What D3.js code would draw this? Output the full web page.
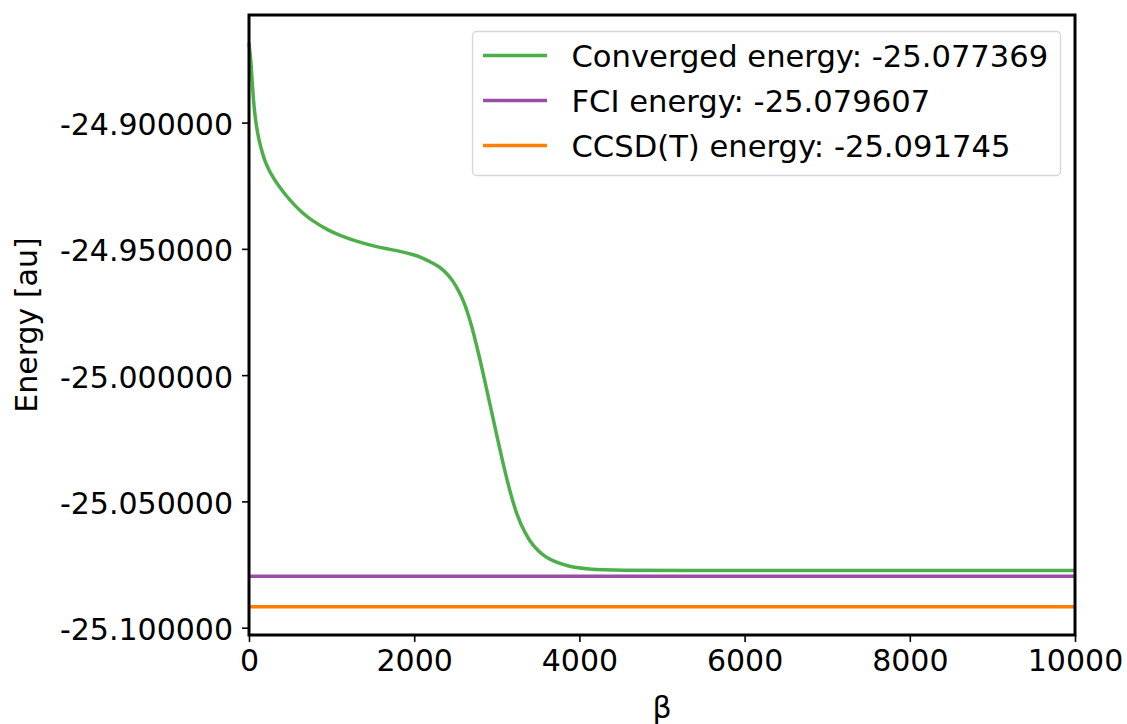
<!DOCTYPE html>
<html>
<head>
<meta charset="utf-8">
<script src="https://cdn.jsdelivr.net/npm/d3@7"></script>
<style>
  html, body { margin: 0; padding: 0; background: #ffffff; }
  svg { display: block; font-family: "DejaVu Sans", sans-serif; }
</style>
</head>
<body>
<svg id="chart" width="1127" height="724"></svg>
<script>
// Imaginary-time propagation: energy as a function of beta
const betaValues = [0, 24, 36, 51, 68, 88, 112, 142, 181, 234, 291, 355, 450, 557, 654, 759, 960, 1102, 1300, 1505, 1650, 1828, 2000, 2110, 2200, 2312, 2397, 2473, 2536, 2594, 2645, 2696, 2748, 2797, 2857, 2918, 2999, 3079, 3160, 3241, 3341, 3442, 3559, 3684, 3862, 4088, 4492, 5218, 6500, 8000, 10000];
const energyValues = [-24.86856, -24.87569, -24.88283, -24.88997, -24.89592, -24.90107, -24.90543, -24.90979, -24.91416, -24.91852, -24.92169, -24.92486, -24.92902, -24.93291, -24.93596, -24.93874, -24.94270, -24.94469, -24.94707, -24.94885, -24.94984, -24.95095, -24.95234, -24.95373, -24.95519, -24.95718, -24.95980, -24.96290, -24.96650, -24.97040, -24.97502, -24.98057, -24.98731, -24.99385, -25.00258, -25.01170, -25.02379, -25.03549, -25.04619, -25.05531, -25.06265, -25.06780, -25.07137, -25.07375, -25.07573, -25.07684, -25.07728, -25.07740, -25.07738, -25.07737, -25.077369];

const referenceNames = ["FCI", "CCSD(T)"];
const referenceEnergies = [-25.079607, -25.091745];
const convergedEnergy = -25.077369;

const seriesLabels = ["Converged energy: -25.077369", "FCI energy: -25.079607", "CCSD(T) energy: -25.091745"];
const seriesColors = ["#4daf4a", "#984ea3", "#ff7f00"];

const xTicks = [0, 2000, 4000, 6000, 8000, 10000];
const yTicks = [-24.90, -24.95, -25.00, -25.05, -25.10];

const margin = { left: 249, right: 1127 - 1075, top: 15, bottom: 724 - 635 };
const width = 1127, height = 724;
const fontSize = 30;
const legendFontSize = 30.6;

const svg = d3.select("#chart");

// y range with a 5% pad around all plotted values
const allY = energyValues.concat(referenceEnergies);
const yMin = d3.min(allY), yMax = d3.max(allY);
const pad = 0.05 * (yMax - yMin);

const x = d3.scaleLinear().domain([0, 10000]).range([margin.left, width - margin.right]);
const y = d3.scaleLinear().domain([yMin - pad, yMax + pad]).range([height - margin.bottom, margin.top]);

// plain hyphen-minus for negative tick labels
const fmtY = v => d3.format(".6f")(v).replace("\u2212", "-");

const plot = svg.append("g");

// Reference energies as horizontal lines
referenceEnergies.forEach((e, i) => {
  plot.append("line")
    .attr("x1", x(0)).attr("x2", x(10000))
    .attr("y1", y(e)).attr("y2", y(e))
    .attr("stroke", seriesColors[i + 1])
    .attr("stroke-width", 3.5);
});

// Energy curve
const pts = betaValues.map((b, i) => [b, energyValues[i]]);
const line = d3.line().x(d => x(d[0])).y(d => y(d[1])).curve(d3.curveBasis);
plot.append("path")
  .datum(pts)
  .attr("d", line)
  .attr("fill", "none")
  .attr("stroke", seriesColors[0])
  .attr("stroke-width", 3.5)
  .attr("stroke-linejoin", "round");

// Axes
const xAxis = d3.axisBottom(x).tickValues(xTicks).tickFormat(d3.format("d")).tickSize(7).tickPadding(6);
const yAxis = d3.axisLeft(y).tickValues(yTicks).tickFormat(fmtY).tickSize(7).tickPadding(9);

const gx = svg.append("g").attr("transform", `translate(0,${height - margin.bottom})`).call(xAxis);
const gy = svg.append("g").attr("transform", `translate(${margin.left},0)`).call(yAxis);

[gx, gy].forEach(g => {
  g.select(".domain").remove();
  g.selectAll(".tick line").attr("stroke", "#000").attr("stroke-width", 1.6);
  g.selectAll(".tick text").attr("fill", "#000").style("font-size", fontSize + "px").style("font-family", "DejaVu Sans");
});
gx.selectAll(".tick text").attr("dy", "0.75em");
gy.selectAll(".tick text").attr("dy", "0.4em");

// Frame
svg.append("rect")
  .attr("x", margin.left).attr("y", margin.top)
  .attr("width", width - margin.left - margin.right)
  .attr("height", height - margin.top - margin.bottom)
  .attr("fill", "none").attr("stroke", "#000").attr("stroke-width", 3);

// Axis titles
svg.append("text")
  .attr("x", (margin.left + width - margin.right) / 2)
  .attr("y", 718)
  .attr("text-anchor", "middle")
  .style("font-size", fontSize + "px")
  .text("β");

svg.append("text")
  .attr("transform", `translate(37,${(margin.top + height - margin.bottom) / 2}) rotate(-90)`)
  .attr("text-anchor", "middle")
  .style("font-size", fontSize + "px")
  .text("Energy [au]");

// Legend
const legend = svg.append("g");
legend.append("rect")
  .attr("x", 472.5).attr("y", 31.5)
  .attr("width", 588).attr("height", 144)
  .attr("rx", 4).attr("ry", 4)
  .attr("fill", "#ffffff").attr("fill-opacity", 0.8)
  .attr("stroke", "#d6d6d6").attr("stroke-width", 1.3);

const rowY = [55.5, 100.5, 145.5];
seriesLabels.forEach((label, i) => {
  legend.append("line")
    .attr("x1", 483).attr("x2", 547)
    .attr("y1", rowY[i]).attr("y2", rowY[i])
    .attr("stroke", seriesColors[i]).attr("stroke-width", 3.5);
  legend.append("text")
    .attr("x", 571.5).attr("y", rowY[i])
    .attr("dy", "0.36em")
    .style("font-size", legendFontSize + "px")
    .text(label);
});
</script>
</body>
</html>
